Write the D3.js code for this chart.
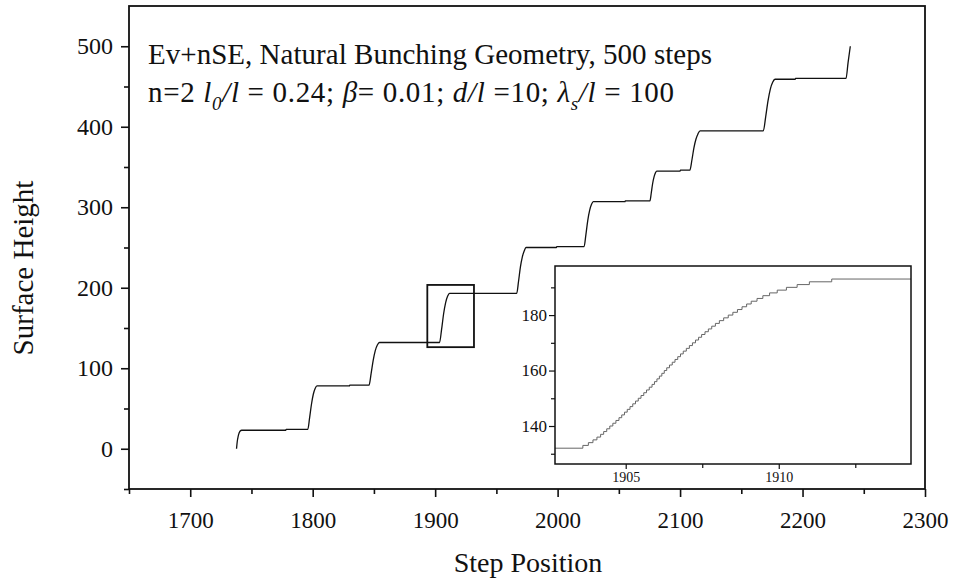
<!DOCTYPE html>
<html><head><meta charset="utf-8">
<script src="https://cdn.jsdelivr.net/npm/d3@7"></script>
<style>body{margin:0;background:#fff} text{font-family:"Liberation Serif","Times New Roman",serif;fill:#111}</style>
</head><body><svg id="c" width="953" height="580"></svg>
<script>
// ---- data ----
const mainX = [
1737.8,1738.4,1739.1,1739.9,1740.8,1742,
1778,1778.3,
1796,1797.5,1799,1800.5,1802,1803.5,
1830,1830.3,
1846,1847.7,1849.4,1851.1,1852.8,1854.5,
1903.6,1905.25,1906.88,1908.52,1910.15,1911.73,
1966.6,1968.1,1969.6,1971.2,1972.7,1974.2,
1999,1999.3,
2021.6,2023.1,2024.6,2026.2,2027.7,2029.2,
2055,2055.3,
2075.4,2076.5,2077.6,2078.8,2079.9,2081,
2100,2100.3,
2108,2109.7,2111.3,2113,2114.6,2116.3,
2168,2169.9,2171.8,2173.7,2175.6,2177.5,
2194,2194.3,
2235.5,2237.2,2239];
const mainY = [
0,9,15,19.5,22,23,
23,24,
24,38.6,55.3,67.7,74.8,78,
78,79,
79,93.3,109.7,121.9,128.8,132,
132,148.2,167.4,181.3,189.3,193,
193,208.1,225.5,238.4,245.6,250,
250,251,
251,266.1,283.5,296.4,303.6,307,
307,308,
308,318,329.5,338,342.8,345,
345,346,
346,359,373.8,384.8,391.1,395,
395,412.3,432.1,446.8,455.2,459,
459,460,
460,480,500];
const insetStepX = [
1903.60,1903.78,1903.93,1904.06,1904.18,1904.28,1904.38,1904.48,1904.58,1904.68,
1904.78,1904.87,1904.96,1905.05,1905.14,1905.23,1905.32,1905.41,1905.50,1905.59,
1905.68,1905.77,1905.86,1905.94,1906.02,1906.10,1906.18,1906.26,1906.34,1906.43,
1906.52,1906.61,1906.70,1906.79,1906.88,1906.98,1907.08,1907.18,1907.28,1907.38,
1907.48,1907.59,1907.70,1907.81,1907.93,1908.06,1908.20,1908.35,1908.50,1908.65,
1908.80,1908.95,1909.10,1909.29,1909.48,1909.70,1909.95,1910.25,1910.60,1911.00,
1911.73];
const insetStepH = [
133,134,135,136,137,138,139,140,141,142,
143,144,145,146,147,148,149,150,151,152,
153,154,155,156,157,158,159,160,161,162,
163,164,165,166,167,168,169,170,171,172,
173,174,175,176,177,178,179,180,181,182,
183,184,185,186,187,188,189,190,191,192,
193];
const insetBaseH = 132;
const zoomBoxX = [1893.6, 1931.7];
const zoomBoxY = [126.2, 203.5];
const xTicks = [1700,1800,1900,2000,2100,2200,2300];
const xMinor = [1650,1750,1850,1950,2050,2150,2250];
const yTicks = [0,100,200,300,400,500];
const yMinor = [-50,50,150,250,350,450];
const insetXTicks = [1905,1910];
const insetXMinor = [1907.5,1912.5];
const insetYTicks = [140,160,180];
const insetYMinor = [130,150,170,190];

// ---- layout ----
const svg = d3.select("#c");
const x = d3.scaleLinear().domain([1650,2300]).range([129,925]);
const y = d3.scaleLinear().domain([-50,550]).range([489,6]);
const ix = d3.scaleLinear().domain([1902.69,1914.32]).range([555,911]);
const iy = d3.scaleLinear().domain([126.3,197.7]).range([464,266]);

function styleAxis(g, w){
  g.select(".domain").remove();
  g.selectAll("line").attr("stroke","#111").attr("stroke-width",w);
}

// main axes
const gx = svg.append("g").attr("transform","translate(0,489)")
  .call(d3.axisBottom(x).tickValues(xTicks).tickSize(8).tickPadding(15).tickFormat(d3.format("d")));
styleAxis(gx,1.6); gx.selectAll("text").attr("font-size",23).style("font-family","Liberation Serif");
const gxm = svg.append("g").attr("transform","translate(0,489)")
  .call(d3.axisBottom(x).tickValues(xMinor).tickSize(5).tickFormat(""));
styleAxis(gxm,1.6);
const gy = svg.append("g").attr("transform","translate(129,0)")
  .call(d3.axisLeft(y).tickValues(yTicks).tickSize(8).tickPadding(8).tickFormat(d3.format("d")));
styleAxis(gy,1.6); gy.selectAll("text").attr("font-size",24).style("font-family","Liberation Serif");
const gym = svg.append("g").attr("transform","translate(129,0)")
  .call(d3.axisLeft(y).tickValues(yMinor).tickSize(5).tickFormat(""));
styleAxis(gym,1.6);

// frame
svg.append("rect").attr("x",129).attr("y",6).attr("width",925-129).attr("height",489-6)
  .attr("fill","none").attr("stroke","#111").attr("stroke-width",1.8);

// main curve
const pts = mainX.map((v,i)=>[v, mainY[i]]);
svg.append("path").datum(pts)
  .attr("d", d3.line().x(d=>x(d[0])).y(d=>y(d[1])).curve(d3.curveMonotoneX))
  .attr("fill","none").attr("stroke","#111").attr("stroke-width",1.3);

// zoom box
svg.append("rect").attr("x",x(zoomBoxX[0])).attr("y",y(zoomBoxY[1]))
  .attr("width",x(zoomBoxX[1])-x(zoomBoxX[0])).attr("height",y(zoomBoxY[0])-y(zoomBoxY[1]))
  .attr("fill","none").attr("stroke","#111").attr("stroke-width",1.8);

// inset
svg.append("rect").attr("x",555).attr("y",266).attr("width",911-555).attr("height",464-266)
  .attr("fill","#fff").attr("stroke","none");
const ixa = svg.append("g").attr("transform","translate(0,464)")
  .call(d3.axisBottom(ix).tickValues(insetXTicks).tickSize(5).tickPadding(3).tickFormat(d3.format("d")));
styleAxis(ixa,1.2); ixa.selectAll("text").attr("font-size",14).style("font-family","Liberation Serif");
const ixm = svg.append("g").attr("transform","translate(0,464)")
  .call(d3.axisBottom(ix).tickValues(insetXMinor).tickSize(4).tickFormat(""));
styleAxis(ixm,1.2);
const iya = svg.append("g").attr("transform","translate(555,0)")
  .call(d3.axisLeft(iy).tickValues(insetYTicks).tickSize(6).tickPadding(2).tickFormat(d3.format("d")));
styleAxis(iya,1.2); iya.selectAll("text").attr("font-size",17).style("font-family","Liberation Serif");
const iym = svg.append("g").attr("transform","translate(555,0)")
  .call(d3.axisLeft(iy).tickValues(insetYMinor).tickSize(4).tickFormat(""));
styleAxis(iym,1.2);

svg.append("clipPath").attr("id","ic").append("rect")
  .attr("x",555).attr("y",266).attr("width",911-555).attr("height",464-266);
const ipts = [[ix.domain()[0], insetBaseH]].concat(insetStepX.map((v,i)=>[v, insetStepH[i]]));
ipts.push([ix.domain()[1], insetStepH[insetStepH.length-1]]);
svg.append("path").datum(ipts).attr("clip-path","url(#ic)")
  .attr("d", d3.line().x(d=>ix(d[0])).y(d=>iy(d[1])).curve(d3.curveStepAfter))
  .attr("fill","none").attr("stroke","#666").attr("stroke-width",1);
svg.append("rect").attr("x",555).attr("y",266).attr("width",911-555).attr("height",464-266)
  .attr("fill","none").attr("stroke","#111").attr("stroke-width",1.5);

// titles
svg.append("text").attr("x",148).attr("y",64).attr("font-size",29)
  .attr("textLength",564).attr("lengthAdjust","spacing")
  .text("Ev+nSE, Natural Bunching Geometry, 500 steps");
const t2 = svg.append("text").attr("x",148).attr("y",102).attr("font-size",29)
  .attr("textLength",526).attr("lengthAdjust","spacing");
t2.append("tspan").text("n=2 ");
t2.append("tspan").attr("font-style","italic").text("l");
t2.append("tspan").attr("font-style","italic").attr("font-size",19).attr("dy",8).text("0");
t2.append("tspan").attr("font-style","italic").attr("dy",-8).text("/l");
t2.append("tspan").text(" = 0.24; ");
t2.append("tspan").attr("font-style","italic").text("β");
t2.append("tspan").text("= 0.01; ");
t2.append("tspan").attr("font-style","italic").text("d/l");
t2.append("tspan").text(" =10; ");
t2.append("tspan").attr("font-style","italic").text("λ");
t2.append("tspan").attr("font-style","italic").attr("font-size",19).attr("dy",8).text("s");
t2.append("tspan").attr("font-style","italic").attr("dy",-8).text("/l");
t2.append("tspan").text(" = 100");

svg.append("text").attr("x",528).attr("y",572).attr("text-anchor","middle").attr("font-size",28)
  .text("Step Position");
svg.append("text").attr("transform","translate(33,268) rotate(-90)").attr("text-anchor","middle").attr("font-size",29)
  .text("Surface Height");
</script></body></html>
